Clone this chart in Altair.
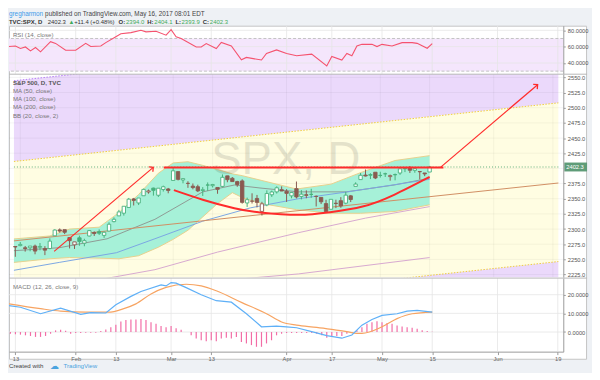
import math
import altair as alt
import pandas as pd

FONT = "Liberation Sans"

# ---------------- x axis: trading-day index (Jan 13 2017 = 0) ----------------
TICK_IDX = [0, 12, 20, 31, 39, 54, 63, 73, 83, 96, 108]
TICK_LABELS = ["13", "Feb", "13", "Mar", "13", "Apr", "17", "May", "15", "Jun", "19"]
X_DOMAIN = [-1.28, 109.1]

# ---------------- candles (Jan 12 = -1 ... May 15 = 83) ----------------
BAR_IDX = list(range(-1, 84))
OPEN = [2271.14, 2272.74, 2269.14, 2269.14, 2271.90, 2269.96, 2267.78, 2267.88, 2288.88, 2298.63,
        2299.02, 2286.01, 2274.02, 2285.59, 2276.69, 2288.54, 2294.28, 2295.87, 2289.55, 2296.70,
        2312.27, 2321.72, 2326.12, 2335.58, 2349.64, 2343.01, 2354.91, 2361.11, 2367.50, 2355.73,
        2365.23, 2366.08, 2380.13, 2394.75, 2380.92, 2375.23, 2370.74, 2369.81, 2363.49, 2372.52,
        2371.56, 2368.55, 2370.34, 2387.71, 2383.71, 2378.24, 2379.32, 2343.00, 2345.97, 2350.42,
        2329.11, 2339.79, 2356.54, 2361.31, 2364.82, 2362.34, 2354.76, 2366.59, 2353.79, 2356.59,
        2357.16, 2353.92, 2352.15, 2341.98, 2332.62, 2342.53, 2346.79, 2342.69, 2354.74, 2370.33,
        2381.51, 2388.98, 2389.70, 2393.68, 2388.50, 2391.05, 2386.50, 2389.79, 2392.37, 2399.94,
        2401.58, 2396.79, 2394.84, 2392.44, 2393.98]
HIGH = [2271.78, 2278.68, 2272.08, 2272.01, 2274.33, 2276.96, 2271.78, 2284.63, 2299.55, 2300.99,
        2299.02, 2286.01, 2279.09, 2289.14, 2283.97, 2298.31, 2296.18, 2299.40, 2295.91, 2311.08,
        2319.23, 2331.58, 2337.58, 2351.30, 2351.31, 2351.16, 2366.71, 2365.13, 2368.26, 2367.34,
        2371.54, 2367.79, 2400.98, 2394.75, 2383.89, 2378.80, 2375.12, 2373.09, 2369.08, 2376.86,
        2374.42, 2368.55, 2390.01, 2388.10, 2385.71, 2379.55, 2381.93, 2351.81, 2358.92, 2356.22,
        2344.90, 2363.78, 2363.36, 2370.42, 2370.35, 2365.87, 2360.53, 2378.36, 2364.16, 2363.76,
        2366.37, 2355.22, 2352.72, 2348.26, 2349.14, 2348.35, 2352.63, 2361.37, 2356.18, 2376.98,
        2392.48, 2398.16, 2392.10, 2393.68, 2394.49, 2392.93, 2389.82, 2391.43, 2399.29, 2401.36,
        2403.87, 2399.74, 2395.72, 2392.44, 2404.05]
LOW = [2254.25, 2271.51, 2262.81, 2263.35, 2258.41, 2265.01, 2257.02, 2266.68, 2288.88, 2294.08,
       2291.62, 2268.04, 2267.21, 2272.44, 2271.65, 2287.88, 2288.57, 2290.16, 2285.38, 2296.61,
       2311.10, 2321.42, 2322.17, 2334.81, 2338.87, 2339.58, 2354.91, 2358.34, 2355.09, 2352.87,
       2361.87, 2358.96, 2380.13, 2380.17, 2375.39, 2367.98, 2365.51, 2361.01, 2354.54, 2363.04,
       2368.52, 2358.18, 2368.94, 2377.18, 2377.64, 2369.66, 2341.90, 2336.45, 2342.13, 2335.74,
       2322.25, 2337.63, 2352.94, 2358.58, 2362.60, 2344.73, 2350.72, 2350.52, 2348.90, 2350.74,
       2351.50, 2337.25, 2341.18, 2328.95, 2332.51, 2334.54, 2335.05, 2340.91, 2344.51, 2370.33,
       2381.15, 2386.78, 2382.36, 2382.36, 2384.83, 2385.82, 2379.75, 2380.35, 2389.38, 2393.92,
       2392.44, 2392.79, 2381.74, 2387.19, 2393.94]
CLOSE = [2270.44, 2274.64, 2267.89, 2271.89, 2263.69, 2271.31, 2265.20, 2280.07, 2298.37, 2296.68,
         2294.69, 2280.90, 2278.87, 2279.55, 2280.85, 2297.42, 2292.56, 2293.08, 2294.67, 2307.87,
         2316.10, 2328.25, 2337.58, 2349.25, 2347.22, 2351.16, 2365.38, 2362.82, 2363.81, 2367.34,
         2369.75, 2363.64, 2395.96, 2381.92, 2383.12, 2375.31, 2368.39, 2362.98, 2364.87, 2372.60,
         2373.47, 2365.45, 2385.26, 2381.38, 2378.25, 2373.47, 2344.02, 2348.45, 2345.96, 2343.98,
         2341.59, 2358.57, 2361.13, 2368.06, 2362.72, 2358.84, 2360.16, 2352.95, 2357.49, 2355.54,
         2357.16, 2353.78, 2344.93, 2328.95, 2349.01, 2342.19, 2338.17, 2355.84, 2348.69, 2374.15,
         2388.61, 2387.45, 2388.77, 2384.20, 2388.33, 2391.17, 2388.13, 2389.52, 2399.29, 2399.38,
         2396.92, 2399.63, 2394.44, 2390.90, 2402.32]
PREV_CLOSE_FIRST = 2275.32
LAST_PRICE = 2402.3

# ---------------- price-panel studies ----------------
BB_IDX = [-1.28, 6, 10, 16, 20, 24, 28, 31, 34, 37, 40, 43, 45, 49, 56, 63, 69, 76, 83]
BB_UP = [2283.7, 2288.6, 2299.9, 2303.1, 2327, 2357, 2392, 2409, 2411, 2405, 2398, 2391, 2388, 2380,
         2366, 2374, 2393, 2413, 2421]
BB_LO = [2245, 2251, 2253, 2252, 2251, 2256, 2270, 2283, 2298, 2320, 2342, 2360, 2352, 2342, 2332,
         2326, 2326, 2329, 2340]
BB_MID_IDX = [-1.28, 7.9, 17.6, 27.3, 37, 43.4, 48.6, 56.4, 66.1, 75.8, 83]
BB_MID = [2264.3, 2269.2, 2283.9, 2316.0, 2361.3, 2372.6, 2367.7, 2361.3, 2361.3, 2372.6, 2383.9]
MA50_IDX = [-1.28, 7.9, 19.5, 27.3, 37, 46.7, 56.4, 66.1, 75.8, 83]
MA50 = [2232, 2245, 2261, 2284, 2313, 2335, 2350, 2361, 2373, 2382]
MA100_IDX = [15, 27.3, 40, 56.4, 70, 83]
MA100 = [2215, 2233, 2262, 2294, 2318, 2337]
MA200_IDX = [45, 56.4, 83]
MA200 = [2218, 2226, 2253]

# drawings
CH_X = [-1.28, 109.1]
CH_A = [2544.5, 2641.1]
CH_B = [2411.4, 2508.0]
CH_C = [2149.8, 2246.4]
CH_D = [2016.8, 2113.4]
TREND_X = [-1.28, 109.1]
TREND_Y = [2280.5, 2375.9]
RES_X = [29.1, 85.8]
RES_Y = [2401.5, 2401.5]
ARROW1_X = [6.87, 26.97]
ARROW1_Y = [2263.2, 2401.7]
ARROW2_X = [85.2, 104.9]
ARROW2_Y = [2401.7, 2538.0]
ARC_X = [31.15, 37.0, 43.4, 48.6, 56.4, 62.8, 69.4, 75.8, 83.0]
ARC_Y = [2364.1, 2348.4, 2334.3, 2327.4, 2323.6, 2327.8, 2337.1, 2356.5, 2386.0]

# ---------------- RSI ----------------
RSI_IDX = [-1.28, 0, 1, 2, 3, 4, 5, 7, 8, 10, 12, 14, 15, 17, 18, 20, 21, 23, 25, 26, 28, 30, 31, 32,
           33, 36, 37, 38, 40, 41, 43, 45, 46, 49, 50, 52, 54, 56, 59, 62, 63, 65, 66, 67, 68, 69,
           71, 72, 73, 75, 77, 79, 80, 82, 83]
RSI = [60.1, 60.8, 57.7, 59.6, 54.8, 58.9, 53.6, 66.1, 64.0, 55.6, 55.6, 64.0, 60.1, 60.8, 64.9, 72.1,
       75.7, 77.2, 80.0, 78.1, 78.8, 74.0, 80.8, 72.1, 70.0, 59.6, 59.6, 63.7, 57.7, 65.2, 60.8, 44.0,
       46.8, 43.6, 51.7, 56.0, 51.7, 48.8, 50.8, 36.4, 48.0, 43.6, 51.7, 48.8, 60.8, 62.8, 62.8, 60.1,
       62.8, 60.8, 64.9, 64.9, 64.0, 58.0, 63.7]

# ---------------- MACD ----------------
MACD_IDX = [-1.28, 1, 5, 9, 13, 15, 18, 20, 23, 25, 29, 30, 31, 32, 34, 37, 40, 43, 46, 49, 52, 54,
            56, 59, 62, 65, 67, 69, 71, 73, 76, 78, 80, 83]
MACD = [14.2, 13.3, 9.8, 12.8, 9.5, 10.4, 10.2, 14.6, 19.1, 21.7, 25.3, 24.7, 26.5, 26.2, 23.8, 20.0,
        16.8, 16.0, 9.8, 2.8, 3.2, 2.8, 2.3, 0.2, -1.9, -3.3, -1.6, 3.7, 6.7, 8.9, 9.8, 11.2, 11.6, 10.7]
SIG_IDX = [-1.28, 5, 9, 14, 19, 21, 24, 27, 30, 34, 37, 40, 45, 50, 53, 56, 60, 63, 66, 68, 69, 73,
           76, 79, 83]
SIG = [15.1, 12.5, 11.2, 10.7, 10.7, 12.0, 15.1, 20.4, 23.9, 25.6, 24.7, 22.1, 15.9, 9.8, 5.4, 3.7,
       2.5, 1.4, 0.2, -0.7, -0.7, 2.8, 7.2, 9.8, 10.7]
HIST = [-0.9, -1.2, -1.4, -1.75, -2.1, -2.6, -2.6, -2.1, -0.9, 0.9, 1.2, 0.7, -0.9, -0.5, -0.5, -0.35,
        -0.35, -0.35, 0.5, 1.4, 2.6, 3.9, 5.6, 6.5, 6.7, 6.7, 7.0, 6.5, 5.3, 4.4, 3.2, 2.6, 3.2, 2.1,
        1.2, 0.0, -1.75, -3.5, -4.4, -4.9, -4.4, -4.9, -3.5, -3.0, -3.5, -2.6, -5.3, -6.1, -7.0, -7.9,
        -7.9, -6.1, -4.4, -1.75, -0.9, -0.5, -0.5, -0.5, -0.5, -0.5, -0.5, -0.9, -1.75, -3.0, -2.6,
        -2.1, -2.1, -0.9, -0.5, 0.9, 2.6, 4.4, 5.3, 5.8, 5.3, 4.9, 4.4, 3.5, 3.0, 2.6, 2.3, 1.75, 0.9,
        0.5, 0.2]

# ---------------- header / legend texts ----------------
HEADER1 = [("gregharmon", "#3d9be9", "normal", 0), ("published on TradingView.com, May 16, 2017 08:01 EDT", "#444", "normal", 2)]
HEADER2 = [("TVC:SPX, D", "#333", "bold", 0), ("2402.3", "#333", "normal", 3.5), ("\u25B2", "#3faa5a", "normal", 2.5),
           ("+11.4 (+0.48%)", "#333", "normal", 1.5), ("O:", "#333", "bold", 3.5), ("2394.0", "#3faa5a", "normal", 0.8),
           ("H:", "#333", "bold", 3.0), ("2404.1", "#3faa5a", "normal", 0.8), ("L:", "#333", "bold", 3.0),
           ("2393.9", "#3faa5a", "normal", 0.8), ("C:", "#333", "bold", 3.0), ("2402.3", "#3faa5a", "normal", 0.8)]
LEGEND = ["S&P 500, D, TVC", "MA (50, close)", "MA (100, close)", "MA (200, close)", "BB (20, close, 2)"]

# ---------------- layout (pixels) ----------------
W = 560
H_RSI, H_PRICE, H_MACD = 48.6, 205.1, 74.3
RSI_DOM = [26.74, 85.65]
PRICE_DOM = [2220.6, 2555.3]
MACD_DOM = [-10.5, 28.9]
PRICE_TICKS = [2225, 2250, 2275, 2300, 2325, 2350, 2375, 2400, 2425, 2450, 2475, 2500, 2525, 2550]
PRICE_LABELS = [v for v in PRICE_TICKS if v != 2400]
RSI_TICKS = [40, 60, 80]
MACD_TICKS = [0, 10, 20]

PURPLE = "#ebd9fb"
YELLOW = "#fffde2"
MINT = "#a6f1d8"
RED = "#ff2b2b"
GRID = "#e6e6e6"

# Arial / Liberation Sans advance widths (1/1000 em) for laying out header pieces
_AW = {" ": 278, ".": 278, ",": 278, ":": 278, "(": 333, ")": 333, "+": 584, "%": 889, "&": 667,
       "a": 556, "b": 556, "c": 500, "d": 556, "e": 556, "g": 556, "h": 556, "i": 222, "l": 222,
       "m": 833, "n": 556, "o": 556, "p": 556, "r": 333, "s": 500, "u": 556, "w": 722, "y": 500,
       "T": 611, "V": 667, "C": 722, "S": 667, "P": 667, "X": 667, "D": 722, "O": 778, "H": 722,
       "L": 556, "M": 833, "E": 667, "\u25B2": 720}

def text_w(s, size, bold=False):
    w = sum(_AW.get(ch, 556) for ch in s) * size / 1000.0
    return w * (1.07 if bold else 1.0)

label_expr = " : ".join(f"datum.value == {v} ? '{l}'" for v, l in zip(TICK_IDX, TICK_LABELS)) + " : ''"

def xs():
    return alt.Scale(domain=X_DOMAIN, nice=False, zero=False)

def X(field, axis=None):
    return alt.X(field, type="quantitative", scale=xs(), axis=axis)

def yaxis(values, fmt):
    return alt.Axis(orient="right", values=values, format=fmt, grid=False, domain=True,
                    domainColor="#9a9a9a", ticks=True, tickSize=2, tickColor="#9a9a9a",
                    labelFontSize=5.8, labelColor="#555", labelFont=FONT, labelPadding=2,
                    title=None, labelFlush=False, labelOverlap=False, zindex=1)

AX_RSI = yaxis(RSI_TICKS, ".4f")
AX_PRICE = yaxis(PRICE_LABELS, ".1f")
AX_MACD = yaxis(MACD_TICKS, ".4f")

def Yr(field):
    return alt.Y(field, type="quantitative", scale=alt.Scale(domain=RSI_DOM, nice=False, zero=False), axis=AX_RSI)

def Yp(field):
    return alt.Y(field, type="quantitative", scale=alt.Scale(domain=PRICE_DOM, nice=False, zero=False), axis=AX_PRICE)

def Ym(field):
    return alt.Y(field, type="quantitative", scale=alt.Scale(domain=MACD_DOM, nice=False, zero=False), axis=AX_MACD)

XAXIS = alt.Axis(values=TICK_IDX, labelExpr=label_expr, grid=False, domain=True, domainColor="#9a9a9a",
                 ticks=True, tickSize=3, tickColor="#9a9a9a", labelFontSize=5.8, labelColor="#666",
                 labelFont=FONT, labelPadding=1, title=None, labelFlush=False, labelOverlap=False)

def one():
    return pd.DataFrame({"k": [0]})

def txt(s, x, y, size=6.2, color="#555", weight="normal", align="left", baseline="middle", opacity=1.0):
    return alt.Chart(pd.DataFrame({"t": [s]})).mark_text(
        align=align, baseline=baseline, fontSize=size, color=color, fontWeight=weight,
        font=FONT, opacity=opacity).encode(x=alt.value(x), y=alt.value(y), text="t:N")

def text_run(pieces, x0, y, size):
    out, x = [], x0
    for s, col, wt, gap in pieces:
        x += gap
        out.append(txt(s, x, y, size=size, color=col, weight=wt))
        x += text_w(s, size, wt == "bold")
    return out

def vgrid():
    return alt.Chart(pd.DataFrame({"x": TICK_IDX})).mark_rule(color=GRID, strokeWidth=0.8).encode(x=X("x"))

# ================= RSI panel =================
rsi_df = pd.DataFrame({"x": RSI_IDX, "v": RSI})
band_df = pd.DataFrame({"x": X_DOMAIN, "lo": [30, 30], "hi": [70, 70]})
rsi_layers = [
    alt.Chart(one()).mark_rect(color="#eef1f5").encode(
        x=alt.value(0), x2=alt.value(584), y=alt.value(-16), y2=alt.value(346)),
    alt.Chart(one()).mark_rect(fill="white", stroke="#c4c4c4", strokeWidth=1).encode(
        x=alt.value(0.5), x2=alt.value(583.5), y=alt.value(0.5), y2=alt.value(337)),
    alt.Chart(band_df).mark_area(color="#f4e6fc").encode(x=X("x"), y=Yr("lo"), y2="hi"),
    alt.Chart(pd.DataFrame({"v": RSI_TICKS})).mark_rule(color=GRID, strokeWidth=0.8).encode(y=Yr("v")),
    vgrid(),
    alt.Chart(pd.DataFrame({"v": [30, 70]})).mark_rule(color="#c2c2c2", strokeDash=[3, 2], strokeWidth=1).encode(
        y=Yr("v")),
    alt.Chart(rsi_df).mark_line(color="#f5536f", strokeWidth=1.1, clip=True).encode(x=X("x"), y=Yr("v")),
    txt("RSI (14, close)", 4, 9.6, color="#7a7a7a"),
] + text_run(HEADER1, 0, -11.5, 6.4) + text_run(HEADER2, 0, -3.8, 6.0)
rsi_chart = alt.layer(*rsi_layers).properties(width=W, height=H_RSI)

# ================= price panel =================
ch_df = pd.DataFrame({"x": CH_X, "a": CH_A, "b": CH_B, "c": CH_C, "d": CH_D})
bb_df = pd.DataFrame({"x": BB_IDX, "up": BB_UP, "lo": BB_LO})

cd = pd.DataFrame({"x": BAR_IDX, "o": OPEN, "h": HIGH, "l": LOW, "c": CLOSE})
cd["pc"] = [PREV_CLOSE_FIRST] + CLOSE[:-1]
cd["top"] = cd[["o", "c"]].max(axis=1)
cd["bot"] = cd[["o", "c"]].min(axis=1)
UPC, DNC = "#46b07c", "#8a5a50"
cd["col"] = [UPC if c >= p else DNC for c, p in zip(cd["c"], cd["pc"])]
cd["fill"] = [("#ffffff" if c > o else col) for c, o, col in zip(cd["c"], cd["o"], cd["col"])]

def pline(xv, yv, color, width=1.0, dash=None, interp="linear"):
    kw = dict(color=color, strokeWidth=width, clip=True, interpolate=interp)
    if dash:
        kw["strokeDash"] = dash
    return alt.Chart(pd.DataFrame({"x": xv, "y": yv})).mark_line(**kw).encode(x=X("x"), y=Yp("y"))

PX_PER_IDX = W / (X_DOMAIN[1] - X_DOMAIN[0])
PX_PER_PT = H_PRICE / (PRICE_DOM[1] - PRICE_DOM[0])

def arrow_angle(xv, yv):
    dx = (xv[1] - xv[0]) * PX_PER_IDX
    dy = (yv[1] - yv[0]) * PX_PER_PT
    return math.degrees(math.atan2(dx, dy)) % 360

heads = pd.DataFrame({
    "x": [ARROW1_X[1], ARROW2_X[1]],
    "y": [ARROW1_Y[1], ARROW2_Y[1]],
    "ang": [arrow_angle(ARROW1_X, ARROW1_Y), arrow_angle(ARROW2_X, ARROW2_Y)],
})

price_layers = [
    alt.Chart(ch_df).mark_area(color=PURPLE, clip=True).encode(x=X("x"), y=Yp("b"), y2="a"),
    alt.Chart(ch_df).mark_area(color=YELLOW, clip=True).encode(x=X("x"), y=Yp("c"), y2="b"),
    alt.Chart(ch_df).mark_area(color=PURPLE, clip=True).encode(x=X("x"), y=Yp("d"), y2="c"),
    alt.Chart(pd.DataFrame({"v": PRICE_TICKS})).mark_rule(color="#000000", opacity=0.06, strokeWidth=0.8).encode(
        y=Yp("v")),
    alt.Chart(pd.DataFrame({"x": TICK_IDX})).mark_rule(color="#000000", opacity=0.06, strokeWidth=0.8).encode(x=X("x")),
    pline(CH_X, CH_A, "#b57cf5", 1, [1.5, 1.5]),
    pline(CH_X, CH_B, "#efcd3c", 1, [1.5, 1.5]),
    pline(CH_X, CH_C, "#efcd3c", 1, [1.5, 1.5]),
    alt.Chart(bb_df).mark_area(color=MINT, clip=True).encode(x=X("x"), y=Yp("lo"), y2="up"),
    alt.Chart(bb_df).mark_line(color="#e6d08e", strokeWidth=1, clip=True).encode(x=X("x"), y=Yp("up")),
    alt.Chart(bb_df).mark_line(color="#e6d08e", strokeWidth=1, clip=True).encode(x=X("x"), y=Yp("lo")),
    txt("SPX, D", 279.7, 101, size=46, color="#000000", opacity=0.1, align="center", baseline="alphabetic"),
    pline(BB_MID_IDX, BB_MID, "#8f9a94", 1),
    pline(MA50_IDX, MA50, "#7aa6e3", 1),
    pline(MA100_IDX, MA100, "#d7a8cf", 1),
    pline(MA200_IDX, MA200, "#d7a8cf", 1),
    pline(TREND_X, TREND_Y, "#d08e63", 1),
    pline([X_DOMAIN[0], X_DOMAIN[1]], [LAST_PRICE, LAST_PRICE], "#5fae7a", 1, [1, 2]),
    # candles
    alt.Chart(cd).mark_rule(strokeWidth=1).encode(x=X("x"), y=Yp("h"), y2="top",
                                                   color=alt.Color("col:N", scale=None)),
    alt.Chart(cd).mark_rule(strokeWidth=1).encode(x=X("x"), y=Yp("bot"), y2="l",
                                                   color=alt.Color("col:N", scale=None)),
    alt.Chart(cd).mark_bar(size=3.4, strokeWidth=0.9).encode(
        x=X("x"), y=Yp("top"), y2="bot",
        fill=alt.Fill("fill:N", scale=None), stroke=alt.Stroke("col:N", scale=None)),
    # drawings
    pline(ARC_X, ARC_Y, RED, 2, None, "natural"),
    pline(RES_X, RES_Y, RED, 2),
    pline(ARROW1_X, ARROW1_Y, RED, 1.2),
    pline(ARROW2_X, ARROW2_Y, RED, 1.2),
    alt.Chart(heads).mark_point(shape="M -1 1 L 0 0 L 1 1", size=40, filled=False, color=RED,
                                strokeWidth=1.3, opacity=1).encode(
        x=X("x"), y=Yp("y"), angle=alt.Angle("ang:Q", scale=None)),
    # last price tag
    alt.Chart(pd.DataFrame({"y": [LAST_PRICE]})).mark_rule(color="#5f9c78", strokeWidth=9).encode(
        x=alt.value(561), x2=alt.value(584), y=Yp("y")),
    alt.Chart(pd.DataFrame({"y": [LAST_PRICE], "t": ["2402.3"]})).mark_text(
        color="white", fontSize=5.8, font=FONT, align="left", baseline="middle").encode(
        x=alt.value(563), y=Yp("y"), text="t:N"),
    alt.Chart(one()).mark_rule(color="#b8b8b8", strokeWidth=1).encode(
        x=alt.value(0), x2=alt.value(584), y=alt.value(0)),
    txt(LEGEND[0], 4, 8.9, color="#555", weight="bold"),
    txt(LEGEND[1], 4, 17.1, color="#777"),
    txt(LEGEND[2], 4, 25.4, color="#777"),
    txt(LEGEND[3], 4, 33.6, color="#777"),
    txt(LEGEND[4], 4, 42.3, color="#777"),
]
price_chart = alt.layer(*price_layers).properties(width=W, height=H_PRICE)

# ================= MACD panel =================
hist_df = pd.DataFrame({"x": BAR_IDX, "h": HIST, "z": [0.0] * len(BAR_IDX)})
macd_layers = [
    alt.Chart(pd.DataFrame({"v": MACD_TICKS})).mark_rule(color=GRID, strokeWidth=0.8).encode(y=Ym("v")),
    alt.Chart(pd.DataFrame({"x": TICK_IDX})).mark_rule(color=GRID, strokeWidth=0.8).encode(x=X("x", XAXIS)),
    alt.Chart(hist_df).mark_rule(color="#f26da6", strokeWidth=1.2).encode(x=X("x", XAXIS), y=Ym("z"), y2="h"),
    alt.Chart(pd.DataFrame({"x": SIG_IDX, "y": SIG})).mark_line(color="#f7a462", strokeWidth=1.2, clip=True,
                                                                interpolate="monotone").encode(
        x=X("x", XAXIS), y=Ym("y")),
    alt.Chart(pd.DataFrame({"x": MACD_IDX, "y": MACD})).mark_line(color="#5fb0f7", strokeWidth=1.2, clip=True).encode(
        x=X("x", XAXIS), y=Ym("y")),
    alt.Chart(one()).mark_rule(color="#b8b8b8", strokeWidth=1).encode(
        x=alt.value(0), x2=alt.value(584), y=alt.value(0)),
    txt("MACD (12, 26, close, 9)", 4, 8.6, color="#7a7a7a"),
    txt("Created with", 0, 14.5 + H_MACD, color="#444"),
    txt("\u2601", 41, 14.5 + H_MACD, color="#4aa3df", size=9),
    txt("TradingView", 55, 14.5 + H_MACD, color="#4aa3df"),
]
macd_chart = alt.layer(*macd_layers).properties(width=W, height=H_MACD)

chart = alt.vconcat(rsi_chart, price_chart, macd_chart, spacing=0, bounds="flush").properties(
    padding=0, background="#eef1f5"
).configure_view(stroke=None)

chart.save("out.html", embed_options={"renderer": "svg", "actions": False})
